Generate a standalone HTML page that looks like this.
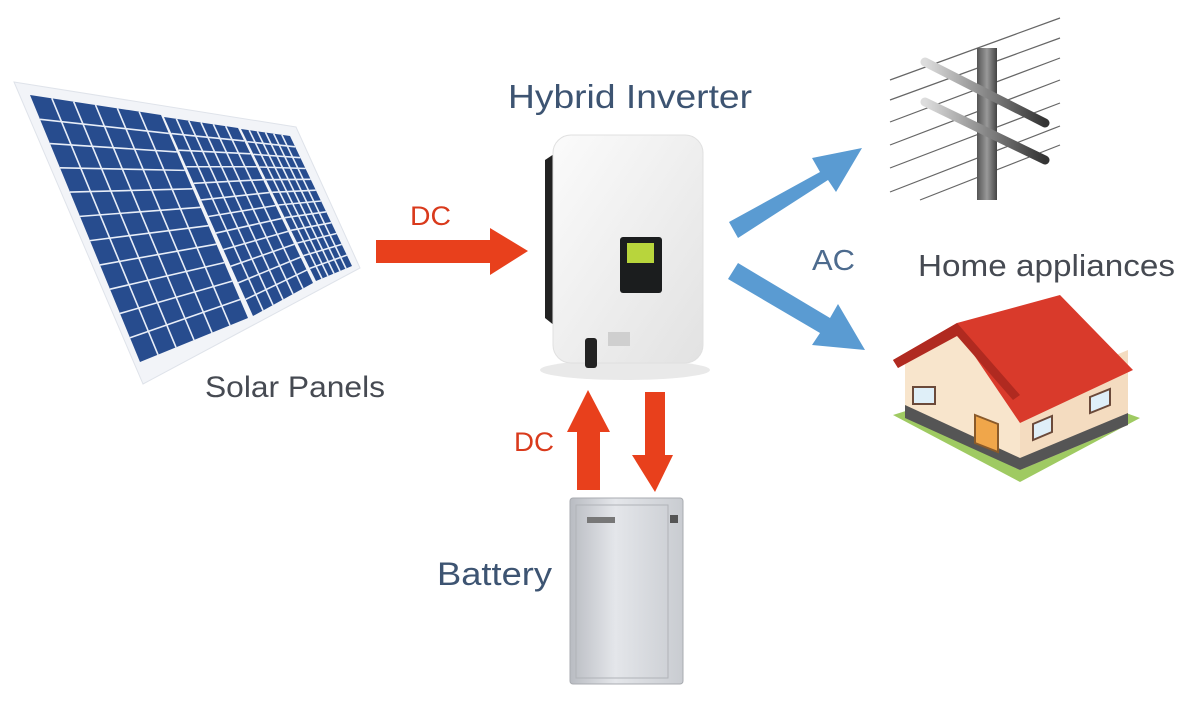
<!DOCTYPE html>
<html><head><meta charset="utf-8"><style>
html,body{margin:0;padding:0;background:#fff;}
svg{display:block;}
text{font-family:"Liberation Sans","DejaVu Sans",sans-serif;}
</style></head><body>
<svg id="s" width="1200" height="702" viewBox="0 0 1200 702" xmlns="http://www.w3.org/2000/svg">
<defs>
<linearGradient id="inv" x1="0" y1="0" x2="1" y2="1"><stop offset="0" stop-color="#fbfbfb"/><stop offset="1" stop-color="#e2e2e2"/></linearGradient>
<linearGradient id="bat" x1="0" y1="0" x2="1" y2="0"><stop offset="0" stop-color="#b9bcc2"/><stop offset="0.4" stop-color="#e4e6ea"/><stop offset="1" stop-color="#c9ccd1"/></linearGradient>
<linearGradient id="pole" x1="0" y1="0" x2="1" y2="0"><stop offset="0" stop-color="#555"/><stop offset="0.5" stop-color="#999"/><stop offset="1" stop-color="#444"/></linearGradient>
<linearGradient id="arm" x1="0" y1="0" x2="1" y2="0"><stop offset="0" stop-color="#ddd"/><stop offset="1" stop-color="#333"/></linearGradient>
</defs>
<!-- solar frame -->
<polygon points="14,82 296,127 360,268 143,384" fill="#f2f4f8" stroke="#dfe3ea"/>
<g id="panels"></g>
<text x="205" y="397" font-size="30" fill="#464a52" textLength="180" lengthAdjust="spacingAndGlyphs">Solar Panels</text>

<!-- DC right arrow -->
<polygon points="376,240 490,240 490,228 528,251 490,275 490,263 376,263" fill="#e8401c"/>
<text x="410" y="225" font-size="27" fill="#d93a1c" textLength="41" lengthAdjust="spacingAndGlyphs">DC</text>

<!-- inverter -->
<text x="508" y="108" font-size="33" fill="#3d5472" textLength="244" lengthAdjust="spacingAndGlyphs">Hybrid Inverter</text>
<ellipse cx="625" cy="370" rx="85" ry="10" fill="#e9e9e9"/>
<path d="M545,160 L560,150 L560,330 L545,318 Z" fill="#222"/>
<rect x="553" y="135" width="150" height="228" rx="18" fill="url(#inv)" stroke="#e0e0e0"/>
<rect x="620" y="237" width="42" height="56" rx="3" fill="#1b1d1e"/>
<rect x="627" y="243" width="27" height="20" fill="#b8d53c"/>
<rect x="585" y="338" width="12" height="30" rx="3" fill="#222"/>
<rect x="608" y="332" width="22" height="14" fill="#cfcfcf"/>

<!-- vertical DC arrows -->
<polygon points="588,390 610,432 600,432 600,490 577,490 577,432 567,432" fill="#e8401c"/>
<polygon points="645,392 665,392 665,455 673,455 655,492 632,455 645,455" fill="#e8401c"/>
<text x="514" y="451" font-size="27" fill="#d93a1c" textLength="40" lengthAdjust="spacingAndGlyphs">DC</text>

<!-- battery -->
<rect x="570" y="498" width="113" height="186" rx="3" fill="url(#bat)" stroke="#a8abb0"/>
<rect x="576" y="505" width="92" height="173" fill="none" stroke="#b0b3b8"/>
<rect x="587" y="517" width="28" height="6" fill="#777"/>
<rect x="670" y="515" width="8" height="8" fill="#555"/>
<text x="437" y="585" font-size="32" fill="#3d5472" textLength="115" lengthAdjust="spacingAndGlyphs">Battery</text>

<!-- AC arrows -->
<g fill="#5a9bd2">
<polygon points="729,222 820,172 812,158 862,148 836,192 828,180 738,238"/>
<polygon points="738,263 830,318 838,304 865,350 812,345 820,333 728,279"/>
</g>
<text x="812" y="270" font-size="29" fill="#4d6b8e" textLength="43" lengthAdjust="spacingAndGlyphs">AC</text>

<!-- power pole -->
<g stroke="#666" stroke-width="1.2">
<line x1="890" y1="80" x2="1060" y2="18"/><line x1="890" y1="100" x2="1060" y2="38"/>
<line x1="890" y1="122" x2="1060" y2="58"/><line x1="890" y1="145" x2="1060" y2="80"/>
<line x1="890" y1="168" x2="1060" y2="103"/><line x1="890" y1="192" x2="1060" y2="126"/>
<line x1="920" y1="200" x2="1060" y2="145"/>
</g>
<rect x="977" y="48" width="20" height="152" fill="url(#pole)"/>
<g stroke="url(#arm)" stroke-width="9" stroke-linecap="round">
<line x1="925" y1="62" x2="1045" y2="123"/>
<line x1="925" y1="102" x2="1045" y2="160"/>
</g>
<text x="918" y="276" font-size="31" fill="#464a52" textLength="257" lengthAdjust="spacingAndGlyphs">Home appliances</text>

<!-- house -->
<polygon points="893,415 1020,482 1140,418 1020,375" fill="#9fca62"/>
<polygon points="905,360 957,330 1020,395 1020,470 905,415" fill="#f8e5cc"/>
<polygon points="1020,395 1128,350 1128,425 1020,470" fill="#f4dcc0"/>
<polygon points="905,405 1020,458 1020,470 905,418" fill="#555"/>
<polygon points="1020,458 1128,413 1128,425 1020,470" fill="#555"/>
<polygon points="893,360 957,323 1060,295 1133,370 1020,423 957,330 898,368" fill="#d93a2b"/>
<polygon points="893,360 957,323 1020,395 1013,400 957,336 898,368" fill="#b02a20"/>
<rect x="913" y="387" width="22" height="17" fill="#dfeff8" stroke="#6b4a3a" stroke-width="2"/>
<polygon points="975,415 998,424 998,452 975,443" fill="#f0a64a" stroke="#8a5a2a" stroke-width="2"/>
<polygon points="1033,424 1052,416 1052,432 1033,440" fill="#dfeff8" stroke="#6b4a3a" stroke-width="2"/>
<polygon points="1090,397 1110,389 1110,405 1090,413" fill="#dfeff8" stroke="#6b4a3a" stroke-width="2"/>
</svg>
<script>
(function(){
var P=[[[30,95],[161,115],[248,318],[140,362],6,11],[[164,117],[238,128],[313,283],[253,316],6,12],[[241,129],[290,136],[352,266],[316,281],6,12]];
var g=document.getElementById('panels'),h='';
function L(a,b,t){return [a[0]+(b[0]-a[0])*t,a[1]+(b[1]-a[1])*t];}
P.forEach(function(p){var A=p[0],B=p[1],C=p[2],D=p[3];
h+='<polygon points="'+[A,B,C,D].map(function(q){return q.join(',')}).join(' ')+'" fill="#274c8e"/>';
for(var i=1;i<p[4];i++){var t=i/p[4],u=L(A,B,t),v=L(D,C,t);h+='<line x1="'+u[0]+'" y1="'+u[1]+'" x2="'+v[0]+'" y2="'+v[1]+'" stroke="#e8eef8" stroke-width="1.6"/>';}
for(var j=1;j<p[5];j++){var t=j/p[5],u=L(A,D,t),v=L(B,C,t);h+='<line x1="'+u[0]+'" y1="'+u[1]+'" x2="'+v[0]+'" y2="'+v[1]+'" stroke="#e8eef8" stroke-width="1.6"/>';}
});
g.innerHTML=h;})();
</script>
</body></html>
